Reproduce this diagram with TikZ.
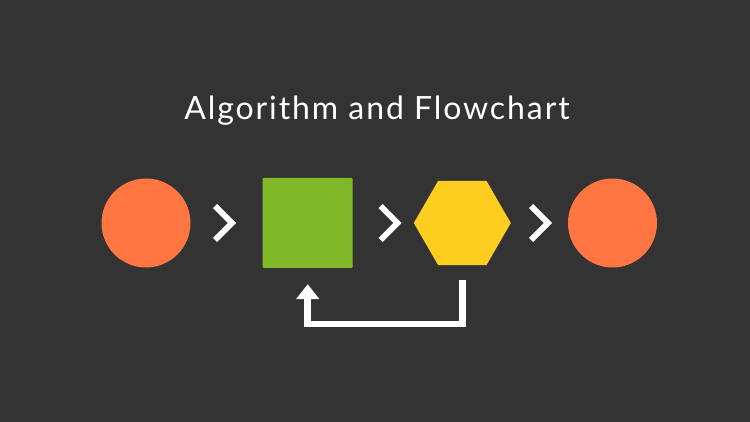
\documentclass[tikz,border=0pt]{standalone}
\usepackage{fontspec}
\setmainfont{Lato}
\usetikzlibrary{shapes.geometric,arrows.meta}
\definecolor{bg}{HTML}{333333}
\definecolor{orng}{HTML}{FF7643}
\definecolor{grn}{HTML}{80B828}
\definecolor{yel}{HTML}{FDCE1F}
\tikzset{
  endcircle/.style={circle,fill=orng,minimum size=89pt,inner sep=0pt},
  procbox/.style={rectangle,fill=grn,minimum size=90pt,inner sep=0pt,rounded corners=1pt},
  hexbox/.style={regular polygon,regular polygon sides=6,fill=yel,minimum size=97pt,inner sep=0pt},
  chev/.style={draw=white,line width=6pt,line join=miter,line cap=butt},
  fb/.style={draw=white,line width=6.5pt,line join=miter,line cap=butt,-{Triangle[width=22.5pt,length=15pt]}},
  title/.style={text=white,font=\fontsize{32}{38}\selectfont\addfontfeatures{LetterSpace=6},anchor=base}
}
\begin{document}
\begin{tikzpicture}[x=1pt,y=-1pt]
\fill[bg] (0,0) rectangle (750,422);
\useasboundingbox (0,0) rectangle (750,422);
\node[title] (t) at (377,120) {Algorithm and Flowchart};
\node[endcircle] (c1) at (146,223) {};
\node[procbox] (sq) at (307.7,223) {};
\node[hexbox] (hex) at (462.3,223) {};
\node[endcircle] (c2) at (612.5,223) {};
\coordinate (k1) at (232,223);
\coordinate (k2) at (397.5,223);
\coordinate (k3) at (548,223);
\draw[chev] ([shift={(-17,-17)}]k1) -- (k1) -- ([shift={(-17,17)}]k1);
\draw[chev] ([shift={(-17,-17)}]k2) -- (k2) -- ([shift={(-17,17)}]k2);
\draw[chev] ([shift={(-17,-17)}]k3) -- (k3) -- ([shift={(-17,17)}]k3);
\draw[fb] ([yshift=-15pt]hex.south) -- ++(0,44) -| ([yshift=-16pt]sq.south);
\end{tikzpicture}
\end{document}
